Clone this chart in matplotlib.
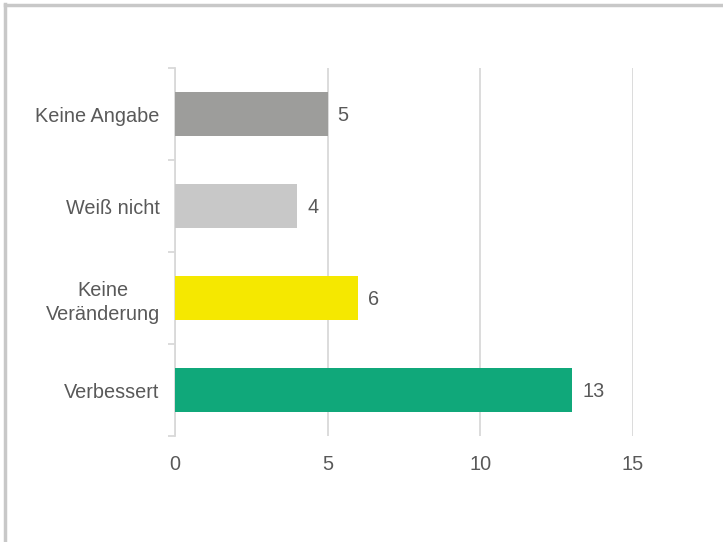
import matplotlib.pyplot as plt
from matplotlib.lines import Line2D

categories = ['Keine Angabe', 'Weiß nicht', 'Keine\nVeränderung', 'Verbessert']
values = [5, 4, 6, 13]
colors = ['#9d9d9b', '#c8c8c8', '#f5e800', '#10a87a']
xticks = [0, 5, 10, 15]

plt.rcParams['font.family'] = ['Liberation Sans', 'DejaVu Sans']
text_color = '#595959'
fs = 14.3

fig = plt.figure(figsize=(7.23, 5.42), dpi=100)
ax = fig.add_axes([175 / 723, 1 - 436 / 542, 458 / 723, 368 / 542])

ypos = list(range(len(categories)))
ax.barh(ypos, values, height=0.47, color=colors, zorder=3)
for y, v in zip(ypos, values):
    ax.text(v + 0.33, y + 0.02, str(v), va='center', ha='left', fontsize=fs, color=text_color)

ax.set_xlim(0, 15)
ax.set_ylim(len(categories) - 0.5, -0.5)
ax.set_xticks(xticks)
ax.set_yticks(ypos)
ax.set_yticklabels(categories)
ax.set_yticks([y - 0.5 for y in range(len(categories) + 1)], minor=True)

ax.grid(axis='x', color='#d9d9d9', linewidth=1.3, zorder=0)
for s in ['top', 'right', 'bottom']:
    ax.spines[s].set_visible(False)
ax.spines['left'].set_color('#d9d9d9')
ax.spines['left'].set_linewidth(1.3)

ax.tick_params(axis='y', which='major', length=0, pad=11, labelsize=fs, labelcolor=text_color)
ax.tick_params(axis='y', which='minor', length=5, width=1.3, color='#d9d9d9')
ax.tick_params(axis='x', length=0, pad=14, labelsize=fs, labelcolor=text_color)
for lbl in ax.get_yticklabels():
    lbl.set_multialignment('center')
    lbl.set_linespacing(1.35)

# frame of the figure (left and top edges visible)
fig.add_artist(Line2D([5 / 723, 5 / 723], [0, 1 - 3.5 / 542], transform=fig.transFigure,
                      color='#c8c8c8', linewidth=2.5))
fig.add_artist(Line2D([5 / 723, 1], [1 - 4.5 / 542, 1 - 4.5 / 542], transform=fig.transFigure,
                      color='#c8c8c8', linewidth=2.5))

fig.savefig('out.png', dpi=100)
